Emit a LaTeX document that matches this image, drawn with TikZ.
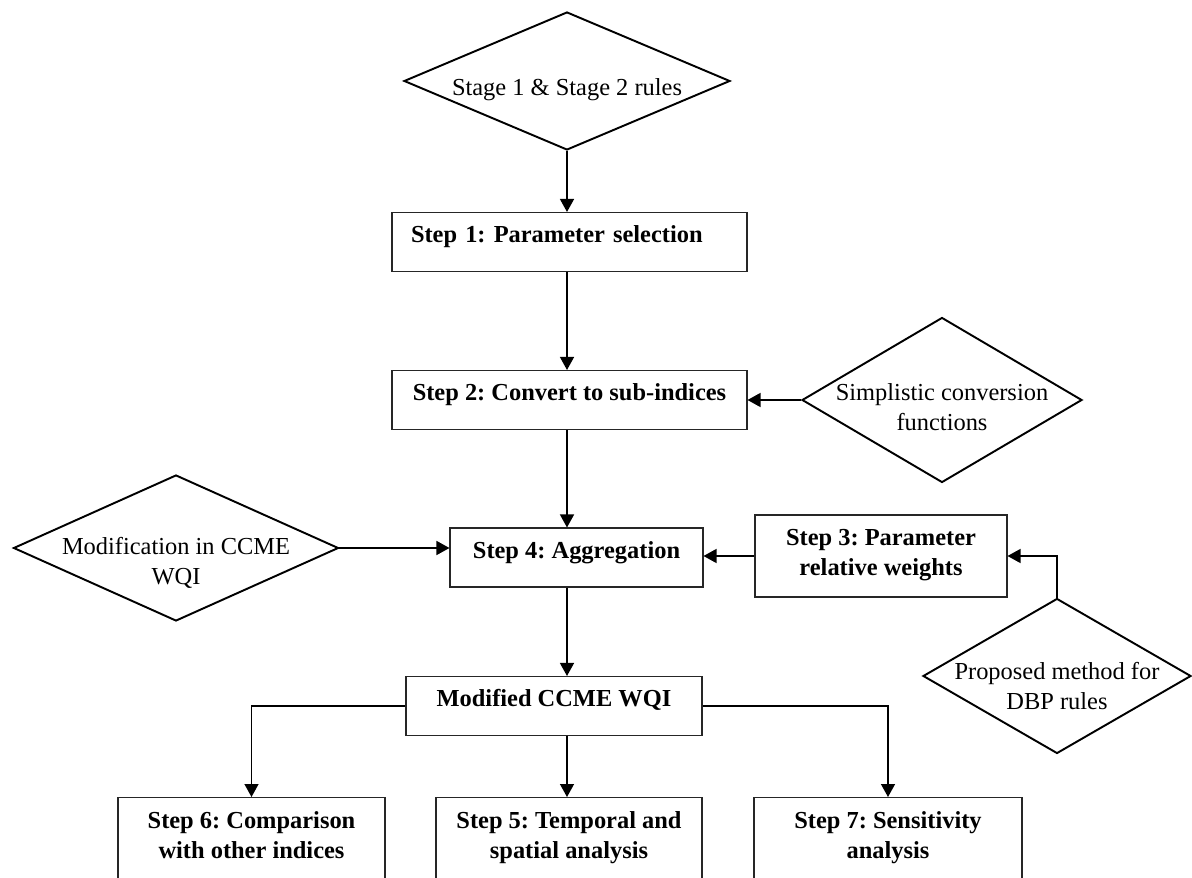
\documentclass[tikz,border=0pt]{standalone}
\usepackage{fontspec}
\setmainfont{Liberation Serif}
\frenchspacing
\usetikzlibrary{shapes.geometric,arrows.meta}

\tikzset{
  caja/.style={draw=black!85, line width=0.6pt, font=\fontsize{13.9}{17}\selectfont\bfseries,
    align=center, text height=0.55cm, text depth=0.53cm, inner ysep=0.05cm},
  rombo/.style={draw, diamond, line width=1.1pt, font=\fontsize{13.9}{17}\selectfont,
    align=center, inner sep=-0.2cm, text depth=0cm},
  flecha/.style={line width=0.8pt, -{Triangle[length=0.26cm,width=0.28cm]}}
}

\begin{document}
\begin{tikzpicture}

% Marco
\useasboundingbox (0,0) rectangle (23.84,-17.56);
\clip (0,0) rectangle (23.84,-17.56);
\coordinate (eje) at (11.34,0);

% Rombos
\node[rombo, aspect=2.36, minimum width=6.52cm, minimum height=2.76cm, text height=0.6cm] (reglas) at (11.34,-1.62) {Stage 1 \& Stage 2 rules};
\node[rombo, aspect=1.7, minimum width=5.6cm, minimum height=3.3cm, text height=1.2cm] (conversion) at (18.84,-8) {Simplistic conversion\\functions};
\node[rombo, aspect=2.23, minimum width=6.5cm, minimum height=2.92cm, text height=1.44cm] (modificacion) at (3.52,-10.96) {Modification in CCME\\WQI};
\node[rombo, aspect=1.73, minimum width=5.36cm, minimum height=3.1cm, text height=1.32cm] (dbp) at (21.14,-13.52) {Proposed method for\\DBP rules};

% Pasos
\node[caja, minimum width=7.1cm, text width=6.34cm, align=left, inner xsep=0.38cm] (paso1) at (11.39,-4.84) {Step 1: Parameter selection};
\node[caja, minimum width=7.1cm] (paso2) at (11.39,-8) {Step 2: Convert to sub-indices};
\node[caja, minimum width=5.06cm] (paso4) at (11.53,-11.15) {Step 4: Aggregation};
\node[caja, minimum width=5.04cm, text height=1.15cm, text depth=0.39cm] (paso3) at (17.62,-11.12) {Step 3: Parameter\\relative weights};
\node[caja, minimum width=5.92cm] (wqi) at (11.08,-14.12) {Modified CCME WQI};

% Pasos de abajo
\node[caja, anchor=north, minimum width=5.34cm, text height=1.17cm, text depth=0.5cm] (paso6) at (5.03,-15.94) {Step 6: Comparison\\with other indices};
\node[caja, anchor=north, minimum width=5.32cm, text height=1.17cm, text depth=0.5cm] (paso5) at (11.38,-15.94) {Step 5: Temporal and\\spatial analysis};
\node[caja, anchor=north, minimum width=5.36cm, text height=1.17cm, text depth=0.5cm] (paso7) at (17.76,-15.94) {Step 7: Sensitivity\\analysis};

% Flechas del eje
\draw[flecha] (reglas.south) -- (paso1.north -| eje);
\draw[flecha] (paso1.south -| eje) -- (paso2.north -| eje);
\draw[flecha] (paso2.south -| eje) -- (paso4.north -| eje);
\draw[flecha] (paso4.south -| eje) -- (wqi.north -| eje);
\draw[flecha] (wqi.south -| eje) -- (paso5.north -| eje);

% Flechas laterales
\draw[flecha] (conversion.west) -- (paso2.east);
\draw[flecha] (modificacion.east) -- (modificacion.east -| paso4.west);
\draw[flecha] (paso3.west) -- (paso3.west -| paso4.east);
\draw[flecha] (dbp.north) |- (paso3.east);
\draw[flecha] (wqi.west) -| (paso6.north);
\draw[flecha] (wqi.east) -| (paso7.north);

\end{tikzpicture}
\end{document}
